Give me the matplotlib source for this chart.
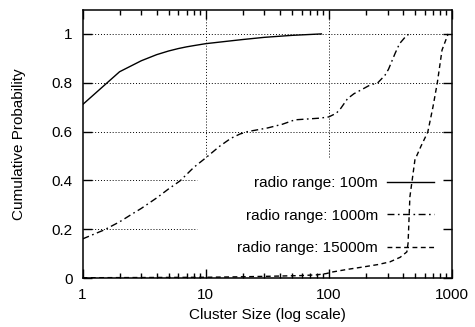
import matplotlib
matplotlib.use("Agg")
import matplotlib.pyplot as plt
from matplotlib.ticker import FixedLocator, FixedFormatter, LogLocator, NullFormatter

plt.rcParams['font.family'] = ['Liberation Sans', 'DejaVu Sans']

# ---- data ----
x_100 = [1, 2, 3, 4, 5, 6, 7, 8, 10, 15, 20, 30, 50, 87]
y_100 = [0.71, 0.845, 0.89, 0.915, 0.93, 0.94, 0.947, 0.952, 0.96, 0.97, 0.977, 0.986, 0.994, 1.0]

x_1000 = [1, 1.5, 2, 2.6, 3, 4, 5, 6.2, 8, 10, 13, 16, 19, 22, 25, 32, 42, 53, 70, 85,
          100, 115, 125, 142, 160, 182, 215, 250, 285, 305, 345, 375, 430, 460]
y_1000 = [0.16, 0.197, 0.23, 0.266, 0.285, 0.328, 0.365, 0.398, 0.453, 0.492, 0.54, 0.572, 0.59, 0.6,
          0.605, 0.615, 0.63, 0.648, 0.652, 0.655,
          0.66, 0.675, 0.695, 0.735, 0.755, 0.77, 0.79, 0.80, 0.83, 0.855, 0.92, 0.96, 0.995, 1.0]

x_15000 = [1, 10, 20, 40, 60, 80, 95, 108, 140, 189, 250, 313, 380, 430, 440, 455,
           500, 560, 636, 700, 760, 830, 930]
y_15000 = [0.001, 0.003, 0.005, 0.008, 0.01, 0.013, 0.018, 0.025, 0.035, 0.045, 0.055,
           0.066, 0.085, 0.107, 0.143, 0.332, 0.484, 0.54, 0.598, 0.7, 0.8, 0.934, 1.0]

labels = ["radio range: 100m", "radio range: 1000m", "radio range: 15000m"]
x_ticks = [1, 10, 100, 1000]
x_ticklabels = ["1", "10", "100", "1000"]
y_ticks = [0, 0.2, 0.4, 0.6, 0.8, 1.0]
y_ticklabels = ["0", "0.2", "0.4", "0.6", "0.8", "1"]

# ---- figure ----
fig = plt.figure(figsize=(4.75, 3.27), dpi=100)
ax = fig.add_axes([82.5 / 475, 1 - 278 / 327, (452 - 82.5) / 475, (278 - 9.5) / 327])
ax.set_xscale('log')
ax.set_xlim(1, 1000)
ax.set_ylim(0, 1.1)

fs = 11

# grid (gnuplot style, cleared behind the key)
grid_kw = dict(color='black', lw=0.7, linestyle=(0, (1, 2)), zorder=1)
key_left = 0.31
key_top = 0.45
for yv in y_ticks[1:]:
    if yv < key_top * 1.1:
        ax.axhline(yv, xmin=0, xmax=key_left, **grid_kw)
    else:
        ax.axhline(yv, **grid_kw)
for xv in x_ticks[1:-1]:
    ax.axvline(xv, ymin=key_top, ymax=1, **grid_kw)

l1, = ax.plot(x_100, y_100, color='black', lw=1.0, linestyle='-', label=labels[0], zorder=3)
l2, = ax.plot(x_1000, y_1000, color='black', lw=1.0, linestyle=(0, (5, 2.5, 1.2, 2.5)),
              label=labels[1], zorder=3)
l3, = ax.plot(x_15000, y_15000, color='black', lw=1.0, linestyle=(0, (3.5, 2.5)),
              label=labels[2], zorder=3)

ax.xaxis.set_major_locator(FixedLocator(x_ticks))
ax.xaxis.set_major_formatter(FixedFormatter(x_ticklabels))
ax.xaxis.set_minor_locator(LogLocator(base=10, subs=range(2, 10)))
ax.xaxis.set_minor_formatter(NullFormatter())
ax.yaxis.set_major_locator(FixedLocator(y_ticks))
ax.yaxis.set_major_formatter(FixedFormatter(y_ticklabels))

ax.tick_params(which='both', direction='in', top=True, right=True, width=1.0, color='black')
ax.tick_params(which='major', length=6.5)
ax.tick_params(which='minor', length=3.3)
ax.tick_params(axis='x', which='major', labelsize=fs, pad=7)
ax.tick_params(axis='y', which='major', labelsize=fs, pad=7)

for sp in ax.spines.values():
    sp.set_linewidth(1.1)
    sp.set_zorder(4)

ax.set_xlabel("Cluster Size (log scale)", fontsize=fs)
ax.set_ylabel("Cumulative Probability", fontsize=fs)
ax.xaxis.set_label_coords(0.5, -0.112)
ax.yaxis.set_label_coords(-0.152, 0.5)

leg = ax.legend(handles=[l1, l2, l3], loc='upper right', bbox_to_anchor=(0.951, 0.379),
                frameon=False, markerfirst=False, fontsize=fs, handlelength=3.1,
                handletextpad=0.55, labelspacing=1.2, borderpad=0, borderaxespad=0)
leg.set_zorder(2)

fig.savefig("out.png", dpi=100)
